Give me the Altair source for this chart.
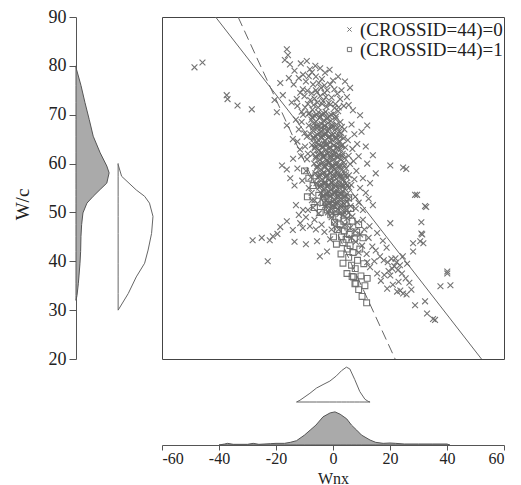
import altair as alt
import pandas as pd

FONT = "Liberation Serif"
LAB0 = "(CROSSID=44)=0"
LAB1 = "(CROSSID=44)=1"

# ---------------- scatter: group (CROSSID=44)=0 (x marks) ----------------
outlier_pts = [
    (-48.6, 79.7), (-45.8, 80.7), (-37.3, 74.0), (-37.0, 73.2), (-33.5, 71.9), (-28.5, 71.1),
    (-16.2, 83.4), (-15.8, 82.2), (-16.9, 81.2), (-15.1, 80.3), (-8.1, 79.3), (-7.4, 78.7),
    (-3.9, 77.3), (0.0, 77.0), (4.9, 73.6), (2.5, 73.2), (-12.7, 73.2), (-10.6, 75.2),
    (-17.6, 74.0), (-5.6, 74.6), (-19.7, 70.5), (-16.2, 67.8), (-14.1, 65.0), (-11.6, 62.9),
    (-9.1, 60.9), (-17.9, 59.6), (-16.2, 58.8), (14.0, 61.7), (20.1, 59.6), (24.6, 59.2),
    (7.0, 70.9), (9.5, 69.9), (12.0, 67.8), (25.7, 58.9), (28.8, 53.6), (32.7, 51.1),
    (31.0, 48.0), (31.0, 45.7), (14.0, 51.5), (20.1, 47.8), (40.1, 37.5), (37.7, 34.9),
    (41.2, 35.1), (28.8, 31.0), (32.3, 31.8), (33.0, 29.3), (35.8, 28.0), (22.5, 33.8),
    (24.6, 33.4), (19.0, 34.4), (30.6, 44.1), (28.1, 43.7), (31.3, 45.5), (-28.2, 44.3),
    (-22.9, 40.0), (-21.1, 45.1), (-22.2, 44.3), (-16.2, 48.2), (-14.1, 46.4), (-10.6, 46.8),
    (-8.1, 47.2), (-5.6, 44.1), (-4.6, 41.0), (-2.1, 42.0), (-8.8, 50.5), (-7.4, 52.5),
    (29.5, 53.6), (32.3, 51.3), (31.7, 43.7), (40.1, 37.9), (20.1, 37.1), (23.6, 34.0),
    (28.1, 42.0), (35.1, 28.2), (15.5, 37.5),
]

upper_pts = [
    (-13.5, 79.0), (-12.0, 77.5), (-10.5, 78.2), (-9.5, 76.8), (-8.5, 77.9), (-7.0, 76.2),
    (-6.0, 77.8), (-5.0, 76.5), (-4.2, 75.5), (-3.0, 76.0), (-2.0, 75.0), (-1.0, 76.2),
    (0.5, 75.2), (1.5, 74.3), (3.0, 75.0), (-11.5, 74.5), (-10.0, 73.8), (-9.0, 74.9),
    (-8.0, 73.0), (-7.5, 74.4), (-6.5, 73.3), (-5.5, 72.5), (-4.5, 73.8), (-3.5, 72.8),
    (-2.5, 73.6), (-1.5, 72.4), (-0.5, 73.5), (0.8, 72.2), (2.0, 71.5), (3.8, 71.8),
    (-12.5, 71.8), (-11.0, 70.6), (-9.8, 71.5), (-8.6, 70.2), (-7.2, 71.0), (-13.8, 76.2),
    (-14.5, 72.5), (5.5, 72.0), (6.0, 75.5), (-6.2, 80.0), (-4.5, 79.5), (-2.8, 78.6),
    (-11.3, 80.5), (-9.2, 81.0), (-15.5, 77.5), (-18.5, 76.5), (-20.5, 73.0), (-1.2, 79.2),
    (1.8, 77.8), (4.2, 76.8),
]

core_pts = [
    (-8.2, 70.3), (-6.5, 69.8), (-5.1, 70.5), (-3.9, 70.1), (-2.6, 70.6), (-1.4, 69.7), (0.2, 70.2), (1.8, 70.7),
    (-7.6, 69.0), (-6.0, 68.6), (-4.7, 69.3), (-3.3, 68.8), (-2.2, 69.2), (-0.8, 68.7), (0.9, 69.1), (2.6, 68.5),
    (-8.5, 67.8), (-6.8, 68.2), (-5.3, 67.6), (-4.0, 68.1), (-2.9, 67.7), (-1.7, 68.3), (-0.3, 67.9), (1.2, 68.0), (3.1, 67.5),
    (-7.1, 66.8), (-5.6, 67.2), (-4.3, 66.6), (-3.0, 67.1), (-1.9, 66.7), (-0.6, 67.3), (0.7, 66.9), (2.2, 66.5), (4.0, 67.0),
    (-7.9, 66.0), (-6.2, 65.7), (-4.8, 66.2), (-3.6, 65.8), (-2.4, 66.1), (-1.2, 65.6), (0.1, 66.0), (1.5, 65.8), (2.9, 66.2),
    (-6.8, 65.1), (-5.2, 64.8), (-4.0, 65.2), (-2.8, 64.7), (-1.6, 65.3), (-0.4, 64.9), (0.9, 65.0), (2.3, 64.6), (3.7, 65.2), (5.2, 64.8),
    (-7.4, 63.8), (-5.8, 64.2), (-4.4, 63.7), (-3.2, 64.1), (-2.0, 63.9), (-0.9, 64.3), (0.4, 63.8), (1.7, 64.0), (3.0, 63.6),
    (-6.5, 63.1), (-5.0, 62.7), (-3.7, 63.2), (-2.5, 62.8), (-1.3, 63.0), (-0.1, 62.6), (1.2, 63.1), (2.6, 62.9), (4.3, 63.3),
    (-7.0, 62.0), (-5.4, 61.8), (-4.1, 62.2), (-2.9, 61.7), (-1.7, 62.1), (-0.5, 61.9), (0.8, 62.3), (2.0, 61.8), (3.4, 62.0), (5.5, 61.6),
    (-6.1, 61.1), (-4.6, 60.8), (-3.3, 61.2), (-2.1, 60.7), (-0.9, 61.0), (0.3, 60.9), (1.5, 61.3), (2.8, 60.8), (4.1, 61.1),
    (-6.6, 60.0), (-5.0, 59.8), (-3.7, 60.2), (-2.5, 59.9), (-1.3, 60.3), (-0.1, 59.7), (1.1, 60.1), (2.4, 59.8), (3.8, 60.2), (6.0, 59.9),
    (-5.7, 59.1), (-4.2, 58.8), (-2.9, 59.2), (-1.7, 58.7), (-0.5, 59.0), (0.7, 58.9), (1.9, 59.3), (3.2, 58.8), (4.6, 59.0),
    (-6.2, 58.0), (-4.6, 57.8), (-3.3, 58.2), (-2.1, 57.7), (-0.9, 58.1), (0.3, 57.9), (1.5, 58.3), (2.7, 57.8), (4.0, 58.0), (5.6, 57.6),
    (-5.3, 57.1), (-3.8, 56.8), (-2.5, 57.2), (-1.3, 56.7), (-0.1, 57.0), (1.1, 56.9), (2.3, 57.3), (3.6, 56.8), (5.0, 57.1),
    (-5.8, 56.0), (-4.2, 55.8), (-2.9, 56.2), (-1.6, 55.7), (-0.4, 56.1), (0.8, 55.9), (2.0, 56.3), (3.3, 55.8), (4.6, 56.0), (6.4, 55.6),
    (-4.8, 55.1), (-3.3, 54.8), (-2.0, 55.2), (-0.8, 54.7), (0.4, 55.0), (1.6, 54.9), (2.9, 55.3), (4.2, 54.8), (5.7, 55.1),
    (-4.2, 54.0), (-2.7, 53.8), (-1.4, 54.2), (-0.2, 53.7), (1.0, 54.1), (2.2, 53.9), (3.5, 54.3), (4.9, 53.8),
    (-3.6, 53.1), (-2.1, 52.8), (-0.8, 53.2), (0.4, 52.7), (1.6, 53.0), (2.8, 52.9), (4.1, 53.3), (5.6, 52.8),
    (-3.0, 52.0), (-1.5, 51.8), (-0.2, 52.2), (1.0, 51.7), (2.2, 52.1), (3.5, 51.9), (4.8, 52.3),
    (-2.4, 51.1), (-0.9, 50.8), (0.4, 51.2), (1.7, 50.7), (3.0, 51.0), (4.4, 50.9), (6.2, 51.3),
    (-1.8, 50.0), (-0.3, 49.8), (1.0, 50.2), (2.3, 49.7), (3.8, 50.1), (5.4, 49.9),
]

core_mid_pts = [
    (-7.3, 69.5), (-5.8, 70.0), (-4.4, 69.6), (-3.1, 70.2), (-1.9, 69.4), (-0.6, 70.0), (1.0, 69.6),
    (-7.0, 67.4), (-5.5, 67.9), (-4.1, 67.3), (-2.8, 67.8), (-1.5, 67.2), (-0.1, 67.7), (1.6, 67.3),
    (-6.9, 65.4), (-5.4, 65.9), (-4.1, 65.5), (-2.9, 66.0), (-1.6, 65.4), (-0.3, 65.8), (1.1, 65.3), (2.6, 65.5),
    (-6.4, 63.4), (-4.9, 63.9), (-3.6, 63.5), (-2.4, 64.0), (-1.1, 63.4), (0.2, 63.7), (1.6, 63.3), (3.2, 63.8),
    (-6.1, 61.4), (-4.7, 61.9), (-3.4, 61.5), (-2.2, 62.0), (-0.9, 61.4), (0.4, 61.7), (1.8, 61.3), (3.3, 61.6),
    (-5.6, 59.4), (-4.2, 59.9), (-2.9, 59.5), (-1.6, 60.0), (-0.3, 59.4), (1.0, 59.7), (2.5, 59.3), (4.0, 59.6),
    (-5.0, 57.4), (-3.6, 57.9), (-2.3, 57.5), (-1.0, 58.0), (0.3, 57.4), (1.6, 57.7), (3.0, 57.3), (4.5, 57.6),
    (-4.4, 55.4), (-3.0, 55.9), (-1.7, 55.5), (-0.4, 56.0), (0.9, 55.4), (2.2, 55.7), (3.6, 55.3), (5.1, 55.6),
    (-3.6, 53.4), (-2.2, 53.9), (-0.9, 53.5), (0.4, 54.0), (1.7, 53.4), (3.0, 53.7), (4.5, 53.3),
    (-2.8, 51.4), (-1.4, 51.9), (-0.1, 51.5), (1.3, 52.0), (2.7, 51.4), (4.1, 51.7),
    (-6.8, 72.0), (-5.2, 71.5), (-3.8, 72.2), (-2.3, 71.6), (-0.9, 72.1), (0.6, 71.4),
    (-6.0, 75.0), (-8.8, 72.2), (-3.0, 74.5),
]

band_pts = [
    (3.5, 49.5), (5.0, 48.8), (6.8, 49.2), (8.5, 48.0), (4.2, 47.5), (6.0, 46.8), (7.8, 46.2),
    (9.5, 45.5), (11.0, 46.5), (12.5, 44.8), (8.0, 44.0), (10.2, 43.2), (13.8, 43.0), (15.0, 42.2),
    (11.8, 41.5), (16.5, 41.0), (17.8, 40.2), (19.2, 39.8), (20.5, 40.5), (21.5, 39.0), (22.3, 39.8),
    (20.8, 38.5), (21.9, 40.6), (22.8, 38.2), (23.5, 39.2), (19.5, 38.0), (18.0, 37.2), (24.2, 37.5),
    (25.5, 36.5), (26.8, 35.6), (23.0, 35.8), (27.5, 34.2), (25.8, 33.2), (21.0, 35.2), (16.8, 36.0),
    (13.0, 38.8), (14.5, 40.0), (9.0, 41.8), (12.0, 39.8), (6.5, 44.8), (2.0, 46.5), (0.8, 48.0),
    (-0.5, 49.0), (10.5, 48.5), (12.8, 47.2), (15.5, 45.8), (17.5, 44.2), (18.8, 42.8), (24.5, 41.0),
    (26.0, 39.5),
]

side_pts = [
    (-12.0, 49.5), (-10.5, 50.5), (-9.5, 49.0), (-6.5, 48.5), (-5.0, 49.8), (-4.0, 47.5), (-3.0, 46.0),
    (-6.0, 46.5), (-11.5, 47.8), (-13.0, 51.5), (-7.0, 51.0), (-5.5, 51.8), (-18.5, 47.0), (-19.5, 45.6),
    (-25.0, 44.8), (-13.5, 44.0), (-9.5, 43.5), (-1.0, 44.5), (-0.5, 46.5),
    (-13.0, 69.0), (-12.0, 67.0), (-11.0, 68.5), (-10.0, 66.2), (-12.5, 64.5), (-9.8, 63.5), (-11.2, 61.5),
    (-9.5, 58.5), (-10.8, 56.5), (-8.5, 55.0), (-7.8, 57.2), (-8.8, 62.0), (-9.2, 65.5), (-10.5, 70.0),
    (-7.5, 54.0), (-6.5, 52.5), (-13.5, 55.5), (-15.0, 57.0), (-14.0, 61.0), (-12.5, 59.0),
    (6.5, 68.0), (7.5, 66.0), (8.5, 64.0), (6.8, 63.0), (9.0, 61.5), (7.2, 60.5), (8.2, 58.5),
    (10.5, 57.0), (7.5, 56.8), (9.5, 55.0), (11.5, 54.0), (7.8, 53.2), (9.0, 52.0), (12.5, 52.8),
    (10.5, 50.5), (8.0, 50.8), (13.0, 56.0), (12.0, 60.0), (15.0, 58.0), (10.0, 66.5), (11.5, 63.5),
]

# ---------------- scatter: group (CROSSID=44)=1 (squares) ----------------
square_pts = [
    (-10.0, 58.5), (-8.5, 57.0), (-7.0, 55.5), (-6.0, 57.5), (-5.0, 53.5), (-4.2, 55.8), (-3.5, 52.0),
    (-2.8, 54.0), (-2.0, 50.5), (-1.5, 52.8), (-0.8, 49.5), (0.0, 51.5), (0.5, 48.0), (1.0, 50.2),
    (1.5, 46.5), (2.0, 49.0), (2.5, 47.5), (3.0, 45.0), (3.2, 50.5), (3.5, 43.8), (3.8, 48.2),
    (4.0, 46.2), (4.3, 51.8), (4.6, 44.5), (4.8, 49.6), (5.0, 42.5), (5.2, 47.0), (5.5, 40.8),
    (5.7, 45.5), (6.0, 43.2), (6.2, 50.8), (6.5, 39.2), (6.7, 48.2), (7.0, 41.8), (7.2, 36.8),
    (7.5, 44.6), (7.8, 38.5), (8.0, 35.5), (8.3, 46.0), (8.6, 40.2), (9.0, 34.2), (9.4, 42.5),
    (9.8, 37.0), (10.2, 32.8), (10.8, 39.5), (11.2, 35.0), (11.8, 31.5), (3.5, 39.6), (4.9, 37.5),
    (7.7, 35.4), (6.7, 36.9), (2.2, 53.5), (-1.2, 56.2), (0.8, 54.8), (5.5, 53.0), (-4.5, 50.0),
    (1.2, 43.5), (2.8, 41.5), (9.0, 47.5), (10.5, 44.8), (12.0, 36.5), (-9.0, 53.2), (-6.5, 51.0),
    (0.2, 45.0),
]

# ---------------- fitted lines (end points on the frame) ----------------
fit0_x = [-41.2, 52.1]
fit0_y = [90, 20]
fit1_x = [-33.3, 21.8]
fit1_y = [90, 20]

# ---------------- marginal densities (relative heights, peak = 1) ----------------
bottom_fill_x = [-40, -38, -37, -35, -30, -28, -26, -22, -20, -17, -15, -12.8, -10, -8, -6, -3.5,
                 -1, 0.7, 2.5, 4.8, 6.5, 8.3, 10, 13, 15, 17.6, 20, 22, 25, 30, 35, 40, 41]
bottom_fill_h = [0, 0.03, 0.05, 0.02, 0.02, 0.05, 0.02, 0.04, 0.05, 0.05, 0.08, 0.13, 0.3, 0.45, 0.6, 0.85,
                 0.97, 1.0, 0.93, 0.79, 0.6, 0.45, 0.3, 0.15, 0.08, 0.05, 0.06, 0.05, 0.03, 0.03, 0.03, 0.03, 0]
bottom_open_x = [-12.8, -11.6, -8.1, -5.8, -3.5, -1.1, 1.2, 3.0, 4.7, 5.9, 7.6, 9.4, 11.2, 12.3, 13.0]
bottom_open_h = [0, 0.05, 0.25, 0.4, 0.5, 0.6, 0.75, 0.9, 1.0, 0.95, 0.65, 0.3, 0.08, 0.02, 0]

left_fill_y = [80, 79.4, 76, 72.5, 69, 65.6, 62.2, 59.5, 58.1, 56, 54.7, 53.3, 51.9, 49.9, 47.5,
               45.1, 42, 39.6, 37, 35.4, 33, 32]
left_fill_w = [0, 0.01, 0.15, 0.27, 0.4, 0.52, 0.73, 0.93, 1.0, 0.93, 0.73, 0.52, 0.33, 0.21, 0.17,
               0.15, 0.14, 0.12, 0.09, 0.07, 0.03, 0]
left_open_y = [60, 59.8, 57.4, 54.6, 53.3, 51.9, 49.2, 45.7, 42.3, 39.6, 36.8, 33.4, 30]
left_open_w = [0, 0.0, 0.1, 0.52, 0.76, 0.9, 1.0, 0.96, 0.86, 0.76, 0.52, 0.29, 0]

# ---------------- layout constants ----------------
MAIN = 342
MARG = 86
FILL_SCALE = 0.385
OPEN_BASE_LEFT = 0.49
OPEN_BASE_BOTTOM = 0.5
OPEN_SCALE = 0.405
GREY = "#6c6c6c"
AXIS_GREY = "#555555"

# ---------------- data frames ----------------
g0 = pd.DataFrame(outlier_pts + upper_pts + core_pts + core_mid_pts + band_pts + side_pts, columns=["x", "y"])
g0["group"] = LAB0
g1 = pd.DataFrame(square_pts, columns=["x", "y"])
g1["group"] = LAB1
pts = pd.concat([g0, g1], ignore_index=True)

fit_df = pd.DataFrame({
    "x": fit0_x + fit1_x,
    "y": fit0_y + fit1_y,
    "fit": ["a", "a", "b", "b"],
})

xs = alt.Scale(domain=[-60, 60], nice=False, zero=False)
ys = alt.Scale(domain=[20, 90], nice=False, zero=False)

points = alt.Chart(pts).mark_point(filled=False, size=34, strokeWidth=1.1, color=GREY, opacity=0.95).encode(
    x=alt.X("x:Q", scale=xs, axis=None),
    y=alt.Y("y:Q", scale=ys, axis=None),
    shape=alt.Shape(
        "group:N",
        scale=alt.Scale(domain=[LAB0, LAB1], range=["M-1,-1L1,1M-1,1L1,-1", "square"]),
        legend=alt.Legend(
            title=None, orient="none", legendX=264, legendY=3,
            labelFont=FONT, labelFontSize=19, labelColor="#222",
            symbolSize=18, symbolStrokeColor=GREY, symbolStrokeWidth=1,
            rowPadding=0, labelOffset=1,
        ),
    ),
)

solid = alt.Chart(fit_df[fit_df.fit == "a"]).mark_line(color="#666666", strokeWidth=1, clip=True).encode(
    x=alt.X("x:Q", scale=xs, axis=None), y=alt.Y("y:Q", scale=ys, axis=None))
dashed = alt.Chart(fit_df[fit_df.fit == "b"]).mark_line(
    color="#666666", strokeWidth=1, strokeDash=[10, 5], clip=True).encode(
    x=alt.X("x:Q", scale=xs, axis=None), y=alt.Y("y:Q", scale=ys, axis=None))

main = alt.layer(points, solid, dashed).properties(
    width=MAIN, height=MAIN, view=alt.ViewBackground(stroke="#444444", strokeWidth=1))

# left marginal
lf = pd.DataFrame({"y": left_fill_y, "w": left_fill_w})
lf["lo"] = 0.0
lf["hi"] = lf["w"] * FILL_SCALE
lo = pd.DataFrame({"y": left_open_y, "w": left_open_w})
lo["lo"] = OPEN_BASE_LEFT
lo["hi"] = OPEN_BASE_LEFT + lo["w"] * OPEN_SCALE

mscale = alt.Scale(domain=[0, 1], nice=False, zero=False)
left_fill = alt.Chart(lf).mark_area(orient="horizontal", color="#aaaaaa", stroke="#555555", strokeWidth=1).encode(
    y=alt.Y("y:Q", scale=ys, axis=alt.Axis(
        values=[20, 30, 40, 50, 60, 70, 80, 90], title="W/c", tickSize=7, labelPadding=3,
        titlePadding=16, labelAngle=0, titleY=187)),
    x=alt.X("lo:Q", scale=mscale, axis=None),
    x2="hi:Q",
)
left_open = alt.Chart(lo).mark_area(orient="horizontal", color="white", stroke="#666666", strokeWidth=1).encode(
    y=alt.Y("y:Q", scale=ys),
    x=alt.X("lo:Q", scale=mscale, axis=None),
    x2="hi:Q",
)
left = alt.layer(left_fill, left_open).properties(width=MARG, height=MAIN)

# bottom marginal
bf = pd.DataFrame({"x": bottom_fill_x, "h": bottom_fill_h})
bf["lo"] = 0.0
bf["hi"] = bf["h"] * FILL_SCALE
bo = pd.DataFrame({"x": bottom_open_x, "h": bottom_open_h})
bo["lo"] = OPEN_BASE_BOTTOM
bo["hi"] = OPEN_BASE_BOTTOM + bo["h"] * OPEN_SCALE

bottom_fill = alt.Chart(bf).mark_area(color="#aaaaaa", stroke="#555555", strokeWidth=1).encode(
    x=alt.X("x:Q", scale=xs, axis=alt.Axis(
        values=[-60, -40, -20, 0, 20, 40, 60], title="Wnx", tickSize=5, labelPadding=0,
        titlePadding=4, labelFontSize=16, titleFontSize=16, labelExpr="'' + datum.value")),
    y=alt.Y("hi:Q", scale=mscale, axis=None),
    y2="lo:Q",
)
bottom_open = alt.Chart(bo).mark_area(color="white", stroke="#666666", strokeWidth=1).encode(
    x=alt.X("x:Q", scale=xs),
    y=alt.Y("hi:Q", scale=mscale, axis=None),
    y2="lo:Q",
)
bottom = alt.layer(bottom_fill, bottom_open).properties(width=MAIN, height=MARG)

spacer = alt.Chart(pd.DataFrame({"v": [0]})).mark_point(opacity=0).encode(
    x=alt.X("v:Q", axis=None), y=alt.Y("v:Q", axis=None)).properties(width=MARG, height=MARG)

chart = alt.concat(left, main, spacer, bottom, columns=2, spacing=0, bounds="flush", align="each").properties(
    padding={"left": 5, "top": 0, "right": 5, "bottom": 0},
).configure_view(stroke=None).configure_axis(
    labelFont=FONT, titleFont=FONT, labelFontSize=18, titleFontSize=19, titleFontWeight="normal",
    labelColor="#222222", titleColor="#222222", domainColor=AXIS_GREY, tickColor=AXIS_GREY, grid=False,
)

chart.save("out.html", embed_options={"renderer": "svg", "actions": False})
